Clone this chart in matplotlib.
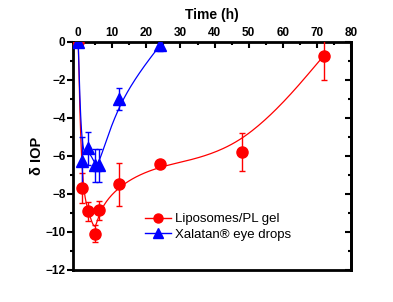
import numpy as np
import matplotlib
matplotlib.use("Agg")
import matplotlib.pyplot as plt
from matplotlib.ticker import MultipleLocator

plt.rcParams['font.family'] = ['Liberation Sans', 'DejaVu Sans']

# data
lipo_t = [0, 1, 3, 5, 6, 12, 24, 48, 72]
lipo_y = [0, -7.7, -8.9, -10.1, -8.85, -7.5, -6.43, -5.8, -0.73]
lipo_err = [0, 0.8, 0.5, 0.45, 0.5, 1.15, 0.1, 1.0, 1.25]

xal_t = [0, 1, 3, 5, 6, 12, 24]
xal_y = [0, -6.26, -5.6, -6.5, -6.5, -3.0, -0.17]
xal_err = [0, 1.25, 0.85, 0.85, 0.85, 0.6, 0.3]


def bspline(xs, ys, n=40):
    # clamped uniform cubic B-spline using the points as control points
    p = np.column_stack([xs, ys]).astype(float)
    p = np.vstack([p[:1], p[:1], p, p[-1:], p[-1:]])
    m = np.array([[-1, 3, -3, 1], [3, -6, 3, 0], [-3, 0, 3, 0], [1, 4, 1, 0]]) / 6.0
    u = np.linspace(0, 1, n)
    U = np.column_stack([u**3, u**2, u, np.ones_like(u)])
    out = np.vstack([U @ m @ p[i:i + 4] for i in range(len(p) - 3)])
    return out[:, 0], out[:, 1]


fig = plt.figure(figsize=(3.93, 3.02), dpi=100)
ax = fig.add_axes([0.186, 0.106, 0.707, 0.755])

red = '#ff0000'
blue = '#0000ff'

bx, by = bspline(lipo_t, lipo_y)
ax.plot(bx, by, color=red, lw=0.9, zorder=2)
ax.errorbar(lipo_t, lipo_y, yerr=lipo_err, fmt='none', ecolor=red,
            elinewidth=1.0, capsize=2.5, capthick=1.0, zorder=3)
ax.plot(lipo_t, lipo_y, 'o', color=red, ms=8, zorder=4)
ax.plot([], [], '-o', color=red, ms=6.5, lw=1, label='Liposomes/PL gel')

cx, cy = bspline(xal_t, xal_y)
ax.plot(cx, cy, color=blue, lw=0.9, zorder=2)
ax.errorbar(xal_t, xal_y, yerr=xal_err, fmt='none', ecolor=blue,
            elinewidth=1.0, capsize=2.5, capthick=1.0, zorder=3)
ax.plot(xal_t, xal_y, '^', color=blue, ms=9, zorder=5)
ax.plot([], [], '-^', color=blue, ms=7, lw=1, label='Xalatan\u00ae eye drops')

ax.set_xlim(-1.5, 80)
ax.set_ylim(-12, 0)

ax.xaxis.tick_top()
ax.xaxis.set_label_position('top')
ax.xaxis.set_major_locator(MultipleLocator(10))
ax.xaxis.set_minor_locator(MultipleLocator(5))
ax.yaxis.set_major_locator(MultipleLocator(2))
ax.yaxis.set_minor_locator(MultipleLocator(1))

ax.tick_params(axis='x', which='both', direction='in', top=True, bottom=False,
               labelsize=8.5, pad=2, width=1.5)
ax.tick_params(axis='x', which='major', length=4)
ax.tick_params(axis='x', which='minor', length=2.5)
ax.tick_params(axis='y', which='both', direction='out', left=True, right=False,
               labelsize=8.5, pad=1.5, width=1.5)
ax.tick_params(axis='y', which='major', length=4)
ax.tick_params(axis='y', which='minor', length=2.5)
for lab in ax.get_xticklabels() + ax.get_yticklabels():
    lab.set_fontweight('bold')

# mirror ticks on the right side, pointing inward
sec = ax.secondary_yaxis('right')
sec.yaxis.set_major_locator(MultipleLocator(2))
sec.yaxis.set_minor_locator(MultipleLocator(1))
sec.tick_params(which='both', direction='in', labelright=False, width=1.5)
sec.tick_params(which='major', length=4)
sec.tick_params(which='minor', length=2.5)
sec.spines['right'].set_linewidth(2)

for s in ax.spines.values():
    s.set_linewidth(2)

ax.set_xlabel('Time (h)', fontsize=10, fontweight='bold', labelpad=6)
ax.set_ylabel('\u03b4 IOP', fontsize=10.5, fontweight='bold', labelpad=1)

ax.legend(loc='lower left', bbox_to_anchor=(0.24, 0.105), frameon=False,
          fontsize=9.5, handlelength=2.0, handletextpad=0.3, labelspacing=0.25,
          borderaxespad=0)

fig.savefig('out.png', dpi=100)
